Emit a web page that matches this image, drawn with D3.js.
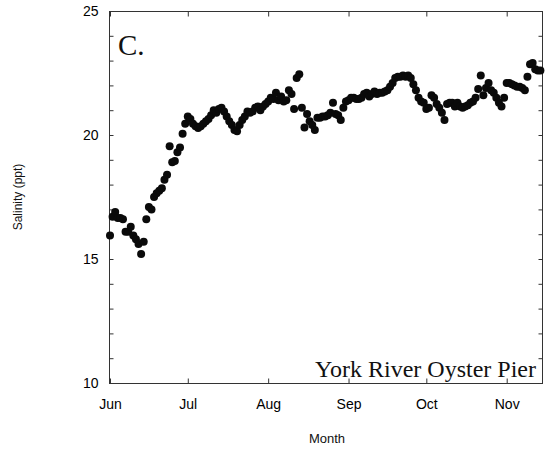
<!DOCTYPE html>
<html>
<head>
<meta charset="utf-8">
<script src="https://cdn.jsdelivr.net/npm/d3@7"></script>
<style>
  body { margin: 0; background: #fff; }
  svg { display: block; font-family: "Liberation Sans", Arial, sans-serif; }
</style>
</head>
<body>
<div id="chart"></div>
<script>
// daily salinity readings, first one taken on startDate
const startDate = '1998-06-01';
const salinity = [
  15.95, 16.7, 16.9, 16.65, 16.65, 16.6, 16.1, 16.1, 16.3, 15.95,
  15.8, 15.6, 15.2, 15.7, 16.6, 17.1, 17.0, 17.5, 17.65, 17.75,
  17.85, 18.2, 18.4, 19.55, 18.9, 18.95, 19.3, 19.5, 20.05, 20.45,
  20.75, 20.65, 20.45, 20.35, 20.28, 20.35, 20.45, 20.55, 20.65, 20.8,
  21.0, 20.9, 21.05, 21.1, 20.95, 20.75, 20.55, 20.4, 20.2, 20.15,
  20.4, 20.6, 20.75, 20.95, 20.9, 20.95, 21.1, 21.15, 21.0, 21.15,
  21.25, 21.35, 21.5, 21.45, 21.7, 21.4, 21.55, 21.35, 21.4, 21.8,
  21.65, 21.05, 22.3, 22.45, 21.1, 20.3, 20.85, 20.55, 20.4, 20.2,
  20.7, 20.7, 20.75, 20.75, 20.8, 20.9, 21.3, 20.85, 20.8, 20.6,
  21.1, 21.35, 21.4, 21.5, 21.5, 21.45, 21.45, 21.5, 21.65, 21.7,
  21.55, 21.65, 21.75, 21.65, 21.7, 21.7, 21.75, 21.8, 21.95, 22.1,
  22.3, 22.35, 22.35, 22.4, 22.35, 22.4, 22.3, 22.05, 21.8, 21.5,
  21.35, 21.3, 21.05, 21.1, 21.6, 21.5, 21.25, 21.1, 20.9, 20.6,
  21.25, 21.3, 21.3, 21.15, 21.3, 21.15, 21.1, 21.15, 21.2, 21.3,
  21.35, 21.5, 21.85, 22.4, 21.6, 21.9, 22.1, 21.8, 21.7, 21.5,
  21.3, 21.15, 21.5, 22.1, 22.1, 22.05, 22.0, 21.95, 21.95, 21.9,
  21.8, 22.35, 22.85, 22.9, 22.65, 22.6, 22.6
];

const monthTicks = ['1998-06-01', '1998-07-01', '1998-08-01', '1998-09-01', '1998-10-01', '1998-11-01'];
const monthLabels = ['Jun', 'Jul', 'Aug', 'Sep', 'Oct', 'Nov'];
const yLabelTicks = [10, 15, 20, 25];
const yMinorTicks = [10, 11, 12, 13, 14, 15, 16, 17, 18, 19, 20, 21, 22, 23, 24, 25];

const width = 546;
const height = 455;
const margin = { top: 11, right: 3, bottom: 72, left: 109 };
const parse = d3.timeParse('%Y-%m-%d');

const start = parse(startDate);
const points = salinity.map((v, i) => ({ date: d3.timeDay.offset(start, i), value: v }));

const x = d3.scaleTime()
  .domain([start, parse('1998-11-15')])
  .range([margin.left + 1, width - margin.right]);
const y = d3.scaleLinear()
  .domain([10, 25])
  .range([height - margin.bottom, margin.top]);

const svg = d3.select('#chart').append('svg')
  .attr('width', width)
  .attr('height', height);

const x0 = margin.left;
const x1 = width - margin.right;
const y0 = margin.top;
const y1 = height - margin.bottom;

// frame
svg.append('rect')
  .attr('x', x0 + 0.5)
  .attr('y', y0 + 0.5)
  .attr('width', x1 - x0 - 1)
  .attr('height', y1 - y0)
  .attr('fill', 'none')
  .attr('stroke', '#333')
  .attr('stroke-width', 1);

const monthDates = monthTicks.map(parse);

// bottom axis (labels + inward ticks)
svg.append('g')
  .attr('transform', `translate(0,${y1 + 0.5})`)
  .call(d3.axisBottom(x)
    .tickValues(monthDates)
    .tickFormat((d, i) => monthLabels[i])
    .tickSize(-5)
    .tickPadding(16));

// top axis ticks
svg.append('g')
  .attr('transform', `translate(0,${y0 + 0.5})`)
  .call(d3.axisTop(x).tickValues(monthDates).tickFormat('').tickSize(-5));

// left axis
svg.append('g')
  .attr('transform', `translate(${x0 + 0.5},0)`)
  .call(d3.axisLeft(y)
    .tickValues(yMinorTicks)
    .tickFormat(d => (yLabelTicks.includes(d) ? d : ''))
    .tickSize(-4)
    .tickPadding(11));

// right axis ticks
svg.append('g')
  .attr('transform', `translate(${x1 - 0.5},0)`)
  .call(d3.axisRight(y).tickValues(yMinorTicks).tickFormat('').tickSize(-4));

svg.selectAll('.domain').remove();
svg.selectAll('.tick line').attr('stroke', '#333');
svg.selectAll('.tick text')
  .attr('fill', '#000')
  .style('font-size', '14px')
  .style('font-family', '"Liberation Sans", Arial, sans-serif');

// dots
svg.append('g')
  .selectAll('circle')
  .data(points)
  .join('circle')
  .attr('cx', d => x(d.date))
  .attr('cy', d => y(d.value))
  .attr('r', 4)
  .attr('fill', '#0a0a0a');

// panel label and site name
svg.append('text')
  .attr('x', 118)
  .attr('y', 55)
  .style('font-family', '"Liberation Serif", "Times New Roman", serif')
  .style('font-size', '29px')
  .attr('fill', '#111')
  .text('C.');

svg.append('text')
  .attr('x', 536)
  .attr('y', 377)
  .attr('text-anchor', 'end')
  .style('font-family', '"Liberation Serif", "Times New Roman", serif')
  .style('font-size', '24px')
  .attr('fill', '#111')
  .text('York River Oyster Pier');

// axis titles
svg.append('text')
  .attr('x', 327)
  .attr('y', 443)
  .attr('text-anchor', 'middle')
  .style('font-size', '13px')
  .attr('fill', '#111')
  .text('Month');

svg.append('text')
  .attr('transform', 'translate(22,197) rotate(-90)')
  .attr('text-anchor', 'middle')
  .style('font-size', '12px')
  .attr('fill', '#111')
  .text('Salinity (ppt)');
</script>
</body>
</html>
